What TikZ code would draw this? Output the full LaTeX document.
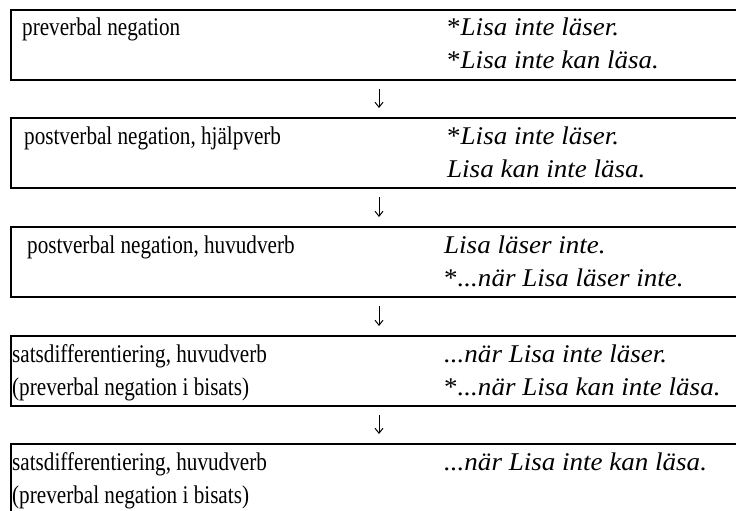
\documentclass[tikz,border=0pt]{standalone}
\usepackage{fontspec}
\setmainfont{Liberation Serif}
\newfontfamily\stagefont{Liberation Serif}[FakeStretch=0.83]
\newfontfamily\examplefont{Liberation Serif}[FakeStretch=1.06]
\usetikzlibrary{arrows.meta}
\begin{document}
\begin{tikzpicture}[x=1pt,y=-1pt,
  stage/.style={draw,line width=2pt,anchor=north west,minimum width=760pt,minimum height=70pt,inner sep=0pt},
  lbl/.style={anchor=base west,inner sep=0pt,font=\fontsize{25.5}{30}\stagefont},
  ex/.style={anchor=base west,inner sep=0pt,font=\fontsize{25.5}{30}\examplefont\itshape},
  flow/.style={line width=1pt,-{Straight Barb[length=5pt,width=8pt]},shorten <=8pt,shorten >=9pt}]
\clip (0,0) rectangle (736,511);
\coordinate (axis) at (379,0);

% stage boxes (they run past the right and bottom edges)
\node[stage] (s1) at (10,9) {};
\node[stage] (s2) at (10,117) {};
\node[stage] (s3) at (10,226) {};
\node[stage] (s4) at (10,335) {};
\node[stage,minimum height=110pt] (s5) at (10,443) {};

% stage 1
\node[lbl] (s1a) at (22,36) {preverbal negation};
\node[ex] (s1b) at (447,36) {\textup{*}Lisa inte läser.};
\node[ex] (s1c) at (447,69) {\textup{*}Lisa inte kan läsa.};

% stage 2
\node[lbl] (s2a) at (24,144) {postverbal negation, hjälpverb};
\node[ex] (s2b) at (447,144) {\textup{*}Lisa inte läser.};
\node[ex] (s2c) at (447,177) {Lisa kan inte läsa.};

% stage 3
\node[lbl] (s3a) at (27,253) {postverbal negation, huvudverb};
\node[ex] (s3b) at (444,253) {Lisa läser inte.};
\node[ex] (s3c) at (444,286) {\textup{*}...när Lisa läser inte.};

% stage 4
\node[lbl] (s4a) at (12,362) {satsdifferentiering, huvudverb};
\node[lbl] (s4b) at (12,395) {(preverbal negation i bisats)};
\node[ex] (s4c) at (444,362) {...när Lisa inte läser.};
\node[ex] (s4d) at (444,395) {\textup{*}...när Lisa kan inte läsa.};

% stage 5
\node[lbl] (s5a) at (12,470) {satsdifferentiering, huvudverb};
\node[lbl] (s5b) at (12,503) {(preverbal negation i bisats)};
\node[ex] (s5c) at (444,470) {...när Lisa inte kan läsa.};

% transitions
\draw[flow] (s1.south -| axis) -- (s2.north -| axis);
\draw[flow] (s2.south -| axis) -- (s3.north -| axis);
\draw[flow] (s3.south -| axis) -- (s4.north -| axis);
\draw[flow] (s4.south -| axis) -- (s5.north -| axis);
\end{tikzpicture}
\end{document}
